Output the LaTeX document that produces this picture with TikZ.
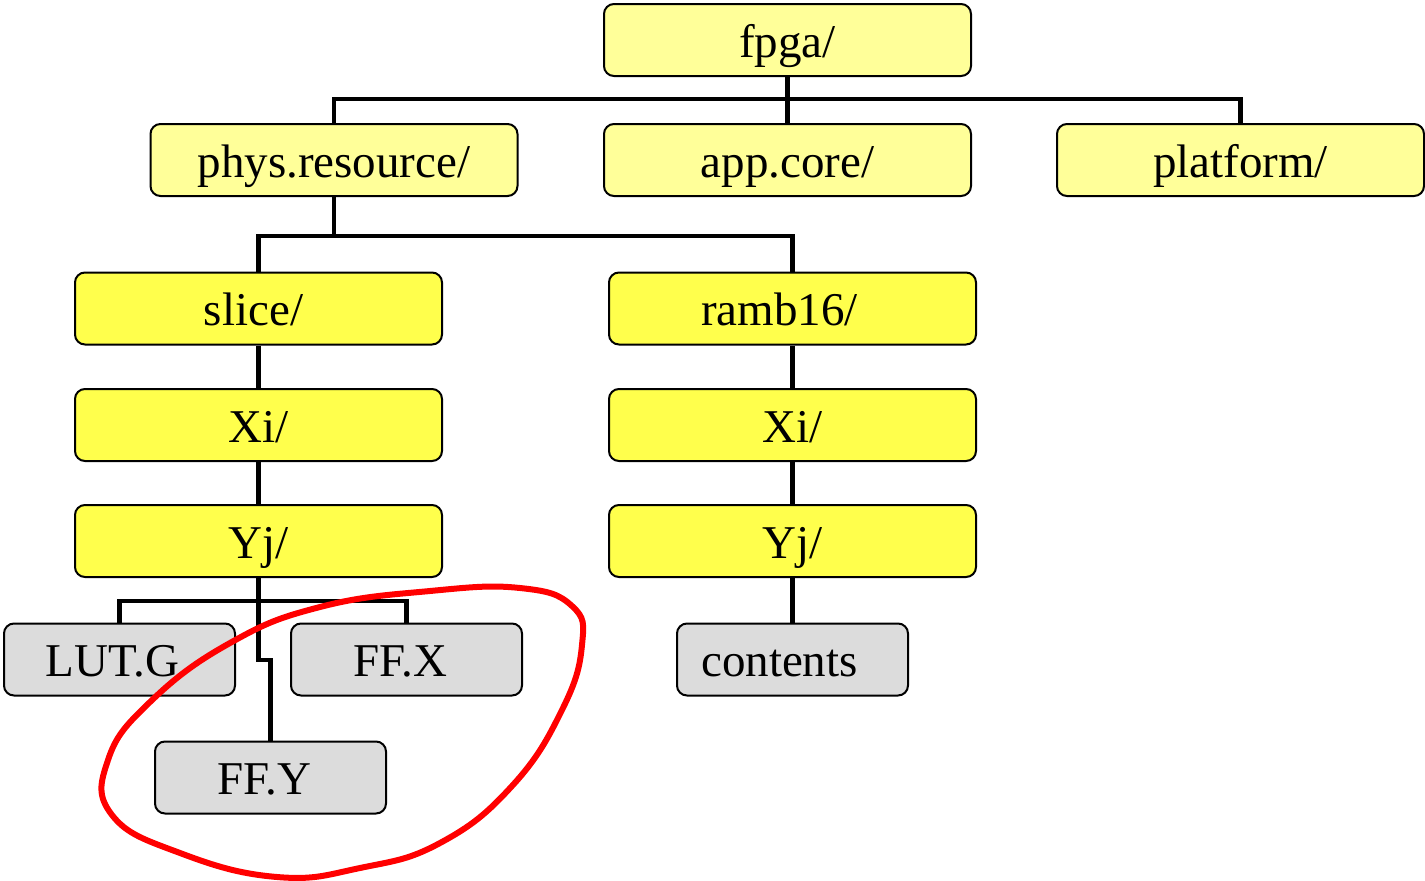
\documentclass[tikz,border=0pt]{standalone}
\usepackage{fontspec}
\setmainfont{Liberation Serif}
\definecolor{lightyel}{HTML}{FFFF99}
\definecolor{brightyel}{HTML}{FFFF4C}
\definecolor{boxgray}{HTML}{DCDCDC}
\definecolor{ringred}{HTML}{FF0000}
\begin{document}
\begin{tikzpicture}[x=1pt,y=-1pt,
  box/.style={draw=black,line width=2pt,rounded corners=10pt,
    minimum height=72pt,text height=34pt,text depth=0pt,inner sep=0pt,
    font=\fontsize{47}{52}\selectfont},
  dirA/.style={box,fill=lightyel,minimum width=367pt},
  dirB/.style={box,fill=brightyel,minimum width=367pt},
  leaf/.style={box,fill=boxgray,minimum width=231pt},
  conn/.style={draw=black,line width=4.2pt},
  ring/.style={draw=ringred,line width=6pt}]
\useasboundingbox (0,0) rectangle (1425,881);
% top level
\node[dirA] (fpga) at (787.5,40) {fpga/};
\node[dirA] (phys) at (334,160) {phys.resource/};
\node[dirA] (app)  at (787.5,160) {app.core/};
\node[dirA] (plat) at (1240.5,160) {platform/};
% second level
\node[dirB] (slice) at (258.5,308.5) {\kern-10pt slice/};
\node[dirB] (ramb)  at (792.5,308.5) {\kern-26pt ramb16/};
\node[dirB] (xiL)   at (258.5,425) {Xi/};
\node[dirB] (xiR)   at (792.5,425) {Xi/};
\node[dirB] (yjL)   at (258.5,541) {Yj/};
\node[dirB] (yjR)   at (792.5,541) {Yj/};
% leaves
\node[leaf] (lut)  at (119.5,659.5) {\kern-14pt LUT.G};
\node[leaf] (ffx)  at (406.5,659.5) {\kern-12pt FF.X};
\node[leaf] (ffy)  at (270.5,777.5) {\kern-12pt FF.Y};
\node[leaf] (cont) at (792.5,659.5) {\kern-26pt contents};
% connectors
\draw[conn] (fpga.south) -- (app.north);
\draw[conn] (phys.north) -- ++(0,-24) -| (plat.north);
\draw[conn] (phys.south) -- ++(0,39) coordinate (j2);
\draw[conn] (slice.north) |- (j2) -| (ramb.north);
\draw[conn] (slice.south) -- (xiL.north);
\draw[conn] (xiL.south) -- (yjL.north);
\draw[conn] (ramb.south) -- (xiR.north);
\draw[conn] (xiR.south) -- (yjR.north);
\draw[conn] (yjR.south) -- (cont.north);
\draw[conn] (yjL.south) -- ++(0,23) coordinate (j3);
\draw[conn] (lut.north) |- (j3) -| (ffx.north);
\draw[conn] (j3) -- ++(0,59) -| (ffy.north);
% red ring
\draw[ring] plot[smooth cycle, tension=0.75] coordinates {
  (520,588) (572,606) (582,645) (562,710) (512,786) (440,843)
  (360,868) (277,877) (180,853) (112,815) (108,760) (150,702)
  (230,643) (320,607) (430,591)};
\end{tikzpicture}
\end{document}
